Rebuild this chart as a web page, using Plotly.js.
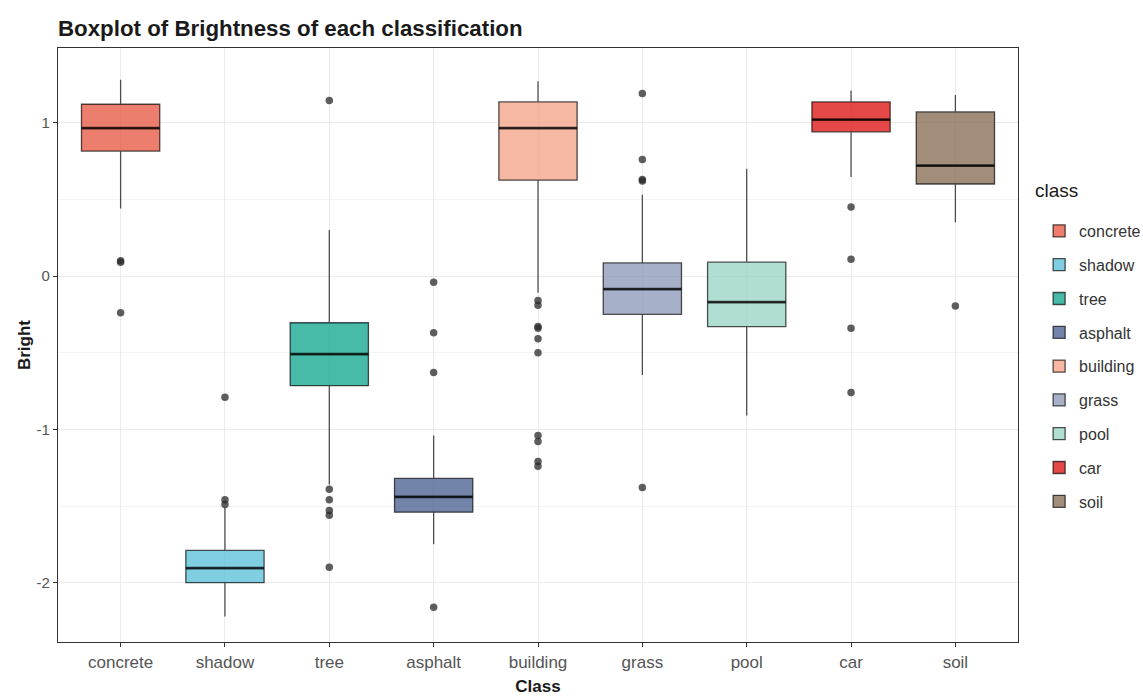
<!DOCTYPE html>
<html>
<head>
<meta charset="utf-8">
<script src="https://cdn.plot.ly/plotly-3.0.1.min.js"></script>
<style>html,body{margin:0;padding:0;background:#fff;}#chart{width:1143px;height:698px;}</style>
</head>
<body>
<div id="chart"></div>
<script>
// ---- data ----
const classes = ["concrete","shadow","tree","asphalt","building","grass","pool","car","soil"];
const lowerWhisker = [0.44, -2.22, -1.36, -1.75, -0.11, -0.645, -0.91, 0.645, 0.35];
const q1Values     = [0.815, -2.00, -0.715, -1.54, 0.625, -0.25, -0.33, 0.94, 0.60];
const medianValues = [0.965, -1.905, -0.51, -1.44, 0.965, -0.085, -0.17, 1.02, 0.72];
const q3Values     = [1.12, -1.79, -0.305, -1.32, 1.135, 0.085, 0.09, 1.135, 1.07];
const upperWhisker = [1.28, -1.51, 0.30, -1.04, 1.27, 0.53, 0.70, 1.21, 1.18];
const outliers = [
  [0.10, 0.09, -0.24],
  [-0.79, -1.46, -1.49],
  [1.145, -1.39, -1.46, -1.53, -1.56, -1.90],
  [-0.04, -0.37, -0.63, -2.16],
  [-0.16, -0.19, -0.33, -0.34, -0.41, -0.50, -1.04, -1.08, -1.21, -1.24],
  [1.19, 0.76, 0.63, 0.62, -1.38],
  [],
  [0.45, 0.11, -0.34, -0.76],
  [-0.195]
];
const classColors = ["#E64B35","#4DBBD5","#00A087","#3C5488","#F39B7F","#8491B4","#91D1C2","#DC0000","#7E6148"];
const yTickVals = [-2, -1, 0, 1];
const yTickText = ["-2", "-1", "0", "1"];

// ---- build ----
function rgba(hex, a){
  const r = parseInt(hex.slice(1,3),16), g = parseInt(hex.slice(3,5),16), b = parseInt(hex.slice(5,7),16);
  return `rgba(${r},${g},${b},${a})`;
}
const boxWidth = 0.75;
const lineCol = 'rgba(0,0,0,0.68)';
const traces = [];
classes.forEach((c, i) => {
  traces.push({
    type: 'box', name: c, x: [i],
    q1: [q1Values[i]], median: [medianValues[i]], q3: [q3Values[i]],
    lowerfence: [lowerWhisker[i]], upperfence: [upperWhisker[i]],
    width: boxWidth, whiskerwidth: 0, boxpoints: false,
    fillcolor: rgba(classColors[i], 0.72),
    line: {color: lineCol, width: 1.3},
    legendgroup: c, hoverinfo: 'skip'
  });
});
// thicker median lines
classes.forEach((c, i) => {
  traces.push({
    type: 'scatter', mode: 'lines', x: [i - boxWidth/2, i + boxWidth/2],
    y: [medianValues[i], medianValues[i]],
    line: {color: 'rgba(0,0,0,0.7)', width: 2.8}, showlegend: false, hoverinfo: 'skip'
  });
});
// outliers
const ox = [], oy = [];
outliers.forEach((arr, i) => arr.forEach(v => { ox.push(i); oy.push(v); }));
traces.push({
  type: 'scatter', mode: 'markers', x: ox, y: oy,
  marker: {color: 'rgba(40,40,40,0.75)', size: 7.5},
  showlegend: false, hoverinfo: 'skip'
});

const font = "'Liberation Sans', Arial, sans-serif";
const layout = {
  width: 1143, height: 698,
  paper_bgcolor: '#fff', plot_bgcolor: '#fff',
  margin: {l: 58, r: 125, t: 48, b: 56, autoexpand: false},
  font: {family: font, color: '#4d4d4d'},
  title: {text: '<b>Boxplot of Brightness of each classification</b>', x: 58/1143, xanchor: 'left', xref: 'container',
          y: 1 - 28/698, yanchor: 'middle', yref: 'container', font: {family: font, size: 22.3, color: '#1a1a1a'}},
  xaxis: {
    range: [-0.6, 8.6], tickmode: 'array', tickvals: classes.map((c,i)=>i), ticktext: classes,
    showgrid: true, gridcolor: '#ebebeb', gridwidth: 1, zeroline: false,
    ticks: 'outside', ticklen: 4, tickcolor: '#333', tickwidth: 1,
    tickfont: {size: 17, color: '#555'},
    showline: true, linecolor: '#333', linewidth: 1.2, mirror: true,
    automargin: false,
    title: {text: '<b>Class</b>', font: {size: 17, color: '#1a1a1a'}, standoff: 9}
  },
  yaxis: {
    range: [-2.387, 1.487], tickmode: 'array', tickvals: yTickVals, ticktext: yTickText,
    showgrid: true, gridcolor: '#ebebeb', gridwidth: 1, zeroline: false,
    minor: {dtick: 0.5, tick0: 0, showgrid: true, gridcolor: '#f4f4f4', gridwidth: 1},
    ticks: 'outside', ticklen: 4, tickcolor: '#333', tickwidth: 1,
    tickfont: {size: 15, color: '#555'},
    showline: true, linecolor: '#333', linewidth: 1.2, mirror: true,
    automargin: false,
    title: {text: '<b>Bright</b>', font: {size: 17, color: '#1a1a1a'}, standoff: 1}
  },
  showlegend: true,
  legend: {
    x: 1.022, xanchor: 'left', y: 1 - (214 - 48)/594, yanchor: 'top',
    font: {size: 16, color: '#333'}, tracegroupgap: 10, itemwidth: 30,
    bgcolor: 'rgba(0,0,0,0)'
  },
  annotations: [{
    text: 'class', xref: 'paper', yref: 'paper', x: 1.016, xanchor: 'left',
    y: 1 - (190 - 48)/594, yanchor: 'middle', showarrow: false,
    font: {family: font, size: 19, color: '#1a1a1a'}
  }]
};
Plotly.newPlot('chart', traces, layout, {displayModeBar: false, staticPlot: true});
</script>
</body>
</html>
